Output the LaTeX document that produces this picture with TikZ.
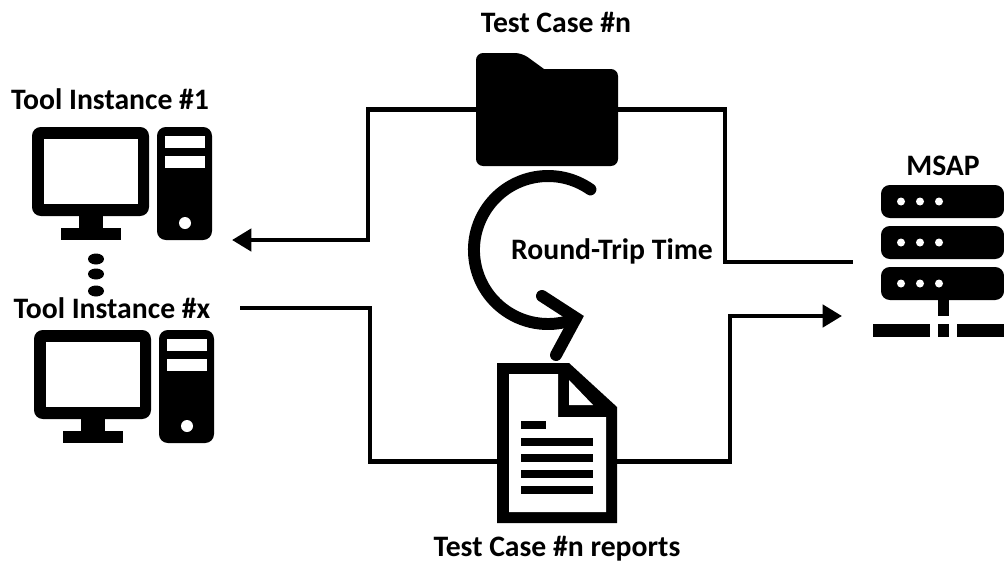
\documentclass[tikz,border=0pt]{standalone}
\usepackage{fontspec}
\setmainfont{Carlito}
\usetikzlibrary{arrows.meta}
\tikzset{
    link/.style={line width=2.6pt},
    linkarrow/.style={link, -{Triangle[length=11pt, width=12.5pt]}},
    title/.style={font=\fontsize{16.9}{19}\selectfont\bfseries, inner sep=0pt},
    iconbox/.style={inner sep=0pt, outer sep=0pt},
    solid part/.style={fill=black, draw=none},
    hole/.style={fill=white, draw=none}
}
\begin{document}
\begin{tikzpicture}[x=0.02cm, y=-0.02cm]
    \useasboundingbox (0, 0) rectangle (1004, 565);

    % Anchors for the connectors
    \node [iconbox, minimum width=2.84cm, minimum height=2.26cm] (folder) at (547, 109.5) {};
    \node [iconbox, minimum width=2.40cm, minimum height=3.20cm] (report) at (557, 461.5) {};
    \coordinate (toolin) at (232, 240);
    \coordinate (toolout) at (240, 308);
    \coordinate (msapin) at (853, 262);
    \coordinate (msapout) at (842, 316);

    % Connectors
    \draw [linkarrow] (folder.west) -- ++(-108, 0) |- (toolin);
    \draw [link] (folder.east) -- ++(107, 0) |- (msapin);
    \draw [link] (toolout) -- ++(130, 0) |- (report.west);
    \draw [linkarrow] (report.east) -- ++(113, 0) |- (msapout);

    % Tool instances
    \foreach \dx/\dy in {0/0, 2/203} {
        \begin{scope}[shift={(\dx, \dy)}]
            \fill [solid part, rounded corners=5pt] (32, 127) rectangle (149, 216);
            \fill [hole] (44, 139) rectangle (138, 204);
            \fill [solid part] (79, 214) rectangle (103, 229);
            \fill [solid part] (61, 228) rectangle (121, 240);
            \fill [solid part, rounded corners=5pt] (157, 127) rectangle (212, 240);
            \fill [hole] (165, 136) rectangle (205, 148);
            \fill [hole] (165, 156) rectangle (205, 168);
            \fill [hole] (185, 223) circle [radius=6];
        \end{scope}
    }
    \foreach \y in {259, 274, 291} {
        \fill [solid part] (96, \y) ellipse [x radius=8, y radius=5.5];
    }
    \node [title] (tool1label) at (110, 99) {Tool Instance \#1};
    \node [title] (toolxlabel) at (112, 308) {Tool Instance \#x};

    % Test case folder
    \fill [solid part, rounded corners=4pt] (476, 166) -- (476, 53) -- (522, 53) [sharp corners] -- (544, 69)
        [rounded corners=4pt] -- (618, 69) -- (618, 166) -- cycle;
    \node [title] (caselabel) at (556, 22) {Test Case \#n};

    % Round trip arrow
    \draw [line width=6.8pt, line cap=round, line join=miter]
        (590.4, 189.4) arc [start angle=-55, end angle=-292, radius=74];
    \draw [line width=6.8pt, line cap=round, line join=miter] (542, 296) -- (576, 318) -- (556, 355);
    \node [title] (triplabel) at (612, 251) {Round-Trip Time};

    % Test case report
    \fill [solid part] (497, 363) -- (569, 363) -- (617, 407) -- (617, 523) -- (497, 523) -- cycle;
    \fill [hole] (509, 374) -- (558, 374) -- (558, 417) -- (606, 417) -- (606, 512) -- (509, 512) -- cycle;
    \fill [hole] (569, 380) -- (593, 405) -- (569, 405) -- cycle;
    \fill [solid part] (521, 421) rectangle (546, 429);
    \foreach \y in {438, 454, 470, 486} {
        \fill [solid part] (521, \y) rectangle (593, \y+8);
    }
    \node [title] (reportlabel) at (557, 549) {Test Case \#n reports};

    % MSAP server
    \foreach \y in {185, 226, 267} {
        \fill [solid part, rounded corners=5pt] (881, \y) rectangle (1004, \y+33);
        \foreach \x in {901, 920, 939} {
            \fill [hole] (\x, \y+16.5) circle [radius=4];
        }
    }
    \fill [solid part] (938, 300) rectangle (949, 316);
    \fill [solid part] (873, 324) rectangle (930, 337);
    \fill [solid part] (938, 324) rectangle (949, 337);
    \fill [solid part] (957, 324) rectangle (1004, 337);
    \node [title] (msaplabel) at (943, 166) {MSAP};
\end{tikzpicture}
\end{document}
